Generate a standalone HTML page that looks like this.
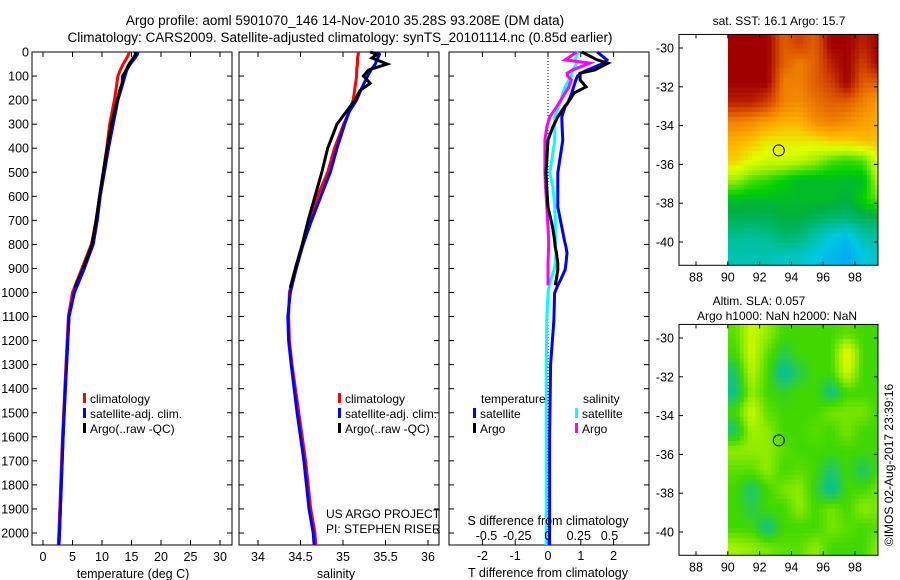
<!DOCTYPE html>
<html><head><meta charset="utf-8"><style>
body{margin:0;background:#fff}
svg{display:block;font-family:"Liberation Sans",Arial,sans-serif}
text{fill:#000}
</style></head><body>
<svg id="fig" width="900" height="580" viewBox="0 0 900 580">
<rect width="900" height="580" fill="#fff"/>
<text x="345" y="25" font-size="13.5" text-anchor="middle">Argo profile: aoml 5901070_146 14-Nov-2010 35.28S 93.208E (DM data)</text>
<text x="340" y="42" font-size="13.5" text-anchor="middle">Climatology: CARS2009. Satellite-adjusted climatology: synTS_20101114.nc (0.85d earlier)</text>
<g id="g"></g>
</svg>
<script>
// ---- depth levels (m) ----
const depthT = [0,10,25,50,75,100,150,200,300,400,500,600,700,800,900,1000,1100,1200,1300,1400,1500,1600,1800,2000,2050];
const tempClim = [14.6,14.5,14.2,13.6,13.1,12.7,12.4,12.1,11.3,10.8,10.2,9.6,9.0,8.2,6.6,5.0,4.3,4.1,3.9,3.7,3.5,3.3,3.0,2.7,2.6];
const tempSat  = [16.1,16.0,15.6,14.8,14.2,13.9,13.3,12.7,11.9,11.1,10.4,9.7,9.2,8.5,7.0,5.3,4.4,4.2,4.0,3.8,3.6,3.4,3.1,2.8,2.7];
const depthArgo = [0,10,25,50,75,100,130,160,200,300,400,500,600,700,800,900,980];
const tempArgo = [15.6,15.7,15.3,14.6,14.1,13.5,13.4,13.0,12.6,11.6,10.9,10.2,9.6,9.0,8.3,6.8,5.4];

const depthS = [0,10,25,50,75,100,150,200,250,300,400,500,600,700,800,900,1000,1100,1200,1300,1500,1700,1900,2000,2050];
const salClim = [35.18,35.18,35.17,35.17,35.16,35.16,35.14,35.12,35.07,35.01,34.90,34.82,34.70,34.61,34.53,34.44,34.37,34.36,34.37,34.40,34.48,34.56,34.62,34.67,34.68];
const salSat  = [35.41,35.43,35.41,35.38,35.33,35.29,35.22,35.16,35.07,35.02,34.93,34.85,34.74,34.63,34.53,34.45,34.38,34.35,34.36,34.39,34.46,34.54,34.60,34.65,34.66];
const salArgo = [35.32,35.40,35.34,35.52,35.30,35.24,35.32,35.20,35.14,34.93,34.82,34.75,34.67,34.59,34.52,34.44,34.38];

const depthD = [0,33,46,75,88,100,116,145,170,212,228,270,312,366,503,560,644,728,783,811,836,878,906,948,970,1002,1114,1300,1600,2000,2050];
const dTsat  = [1.5,1.8,1.7,1.2,1.0,0.9,0.85,0.78,0.73,0.6,0.52,0.42,0.43,0.45,0.3,0.3,0.3,0.42,0.5,0.55,0.58,0.55,0.52,0.38,0.3,0.2,0.18,0.08,0.05,0.05,0.05];
const dTargo = [1.03,1.5,1.83,1.43,0.98,0.98,0.98,1.16,0.8,0.6,0.5,0.3,0.15,0.0,-0.06,-0.04,0.0,0.14,0.2,0.22,0.26,0.3,0.3,0.25,0.22];
const dSsat  = [0.245,0.22,0.235,0.2,0.19,0.19,0.17,0.14,0.12,0.1,0.085,0.055,0.055,0.055,0.015,0.04,0.055,0.06,0.06,0.062,0.065,0.06,0.05,0.02,0.01,0.0,-0.01,-0.015,-0.015,-0.015,-0.015];
const dSargo = [0.235,0.14,0.34,0.2,0.155,0.16,0.19,0.17,0.14,0.09,0.07,0.015,-0.01,-0.025,-0.025,-0.02,-0.01,0.0,0.005,0.005,0.003,0.0,0.0,0.0,0.0];

const yTicks = [0,100,200,300,400,500,600,700,800,900,1000,1100,1200,1300,1400,1500,1600,1700,1800,1900,2000];
const tTicks = [0,5,10,15,20,25,30];
const sTicks = [34,34.5,35,35.5,36];
const dTTicks = [-2,-1,0,1,2];
const dSTicks = [-0.5,-0.25,0,0.25,0.5];
const dSLabels = ["-0.5","-0.25","0","0.25","0.5"];

// ---- maps (1-degree cells, rows from lat -29.3 southward, cols from lon 90 eastward) ----
const sstGrid = [
[1,1,1,.85,.9,.85,1,1,.95,1],
[1,1,1,.85,.8,.85,.95,1,.9,1],
[1,1,1,.8,.8,.85,.9,1,.85,.85],
[.95,.95,.9,.8,.78,.82,.85,.85,.8,.75],
[.8,.78,.75,.72,.72,.78,.8,.78,.75,.72],
[.72,.7,.65,.65,.65,.65,.68,.68,.7,.7],
[.68,.62,.6,.6,.58,.55,.5,.48,.5,.62],
[.55,.5,.48,.45,.42,.42,.42,.42,.42,.58],
[.42,.42,.42,.42,.42,.42,.42,.4,.45,.52],
[.38,.38,.38,.4,.4,.38,.36,.36,.38,.38],
[.33,.32,.33,.36,.35,.3,.25,.22,.3,.32],
[.3,.3,.3,.28,.28,.25,.22,.2,.25,.28]];
const slaGrid = [
[.1,.6,.3,0,0,0,0,.1,0,0],
[0,.6,.1,-.2,0,0,0,.8,0,0],
[-.3,.5,0,-.5,-.2,0,0,.6,0,0],
[-.4,.3,0,-.1,0,0,-.4,0,0,0],
[0,.6,.1,0,0,0,.2,.2,.2,0],
[-.3,.4,.3,0,0,.1,0,.2,0,0],
[.3,.3,.3,.1,0,0,0,0,0,0],
[.1,.1,.3,0,.1,0,-.3,0,-.3,0],
[0,-.3,0,.2,.3,-.1,-.5,0,0,.2],
[0,-.2,0,0,.3,0,.2,0,.3,.2],
[0,0,-.4,0,0,0,.2,.1,0,.1],
[.4,.3,.2,.1,.1,.3,0,0,0,.3]];
const latTicks = [-30,-32,-34,-36,-38,-40];
const lonTicks = [88,90,92,94,96,98];
const argoLon = 93.208, argoLat = -35.28;

const NS='http://www.w3.org/2000/svg';
const G=document.getElementById('g');
function mk(tag,attrs,parent){const e=document.createElementNS(NS,tag);for(const k in attrs)e.setAttribute(k,attrs[k]);(parent||G).appendChild(e);return e;}
function txt(x,y,s,size,anchor,parent){const t=mk('text',{x:x,y:y,'font-size':size,'text-anchor':anchor||'middle'},parent);t.textContent=s;return t;}

const yD = d => 52 + 0.2405*d;
const PY0=52, PY1=545;
const xT = v => 43 + 5.9*v;
const xS = v => 258 + 85*(v-34);
const xdT = v => 548 + 32.8*v;
const xdS = v => 548 + 123*v;

function frame(x0,x1,name,xt,xf){
  const g=mk('g',{});
  
  
  mk('rect',{x:x0,y:PY0,width:x1-x0,height:PY1-PY0,fill:'none',stroke:'#000','stroke-width':1},g);
  yTicks.forEach(d=>{const y=yD(d);mk('line',{x1:x0,x2:x0+5,y1:y,y2:y,stroke:'#000'},g);mk('line',{x1:x1-5,x2:x1,y1:y,y2:y,stroke:'#000'},g);});
  xt.forEach(v=>{const x=xf(v);mk('line',{x1:x,x2:x,y1:PY0,y2:PY0+5,stroke:'#000'},g);mk('line',{x1:x,x2:x,y1:PY1-5,y2:PY1,stroke:'#000'},g);});
  return g;
}
function line(ds,vs,xf,color,name){
  const pts=vs.map((v,i)=>xf(v).toFixed(1)+','+yD(ds[i]).toFixed(1)).join(' ');
  const p=mk('polyline',{points:pts,fill:'none',stroke:color,'stroke-width':3,'stroke-linejoin':'miter'});
  
  
  return p;
}
function legItem(x,y,color,label,name){
  const g=mk('g',{});
  
  
  mk('rect',{x:x,y:y-10,width:3,height:10,fill:color},g);
  txt(x+7,y,label,12,'start',g);
}

yTicks.forEach(d=>{const t=txt(29,yD(d)+4.5,String(d),12.5,'end');});

// Panel 1
frame(32,232,'temperature-panel',tTicks,xT);
tTicks.forEach(v=>txt(xT(v),561,String(v),12.5));
txt(133,578,'temperature (deg C)',12.5);
line(depthT,tempClim,xT,'#ff0000','temp-climatology-line');
line(depthT,tempSat,xT,'#0000ff','temp-satellite-line');
line(depthArgo,tempArgo,xT,'#000','temp-argo-line');
line(depthT.slice(14),tempSat.slice(14),xT,'#0000ff','temp-satellite-deep-line');
legItem(83,403,'#ff0000','climatology','legend-climatology');
legItem(83,418,'#0000ff','satellite-adj. clim.','legend-satellite');
legItem(83,433,'#000','Argo(..raw -QC)','legend-argo');

// Panel 2
frame(239,439,'salinity-panel',sTicks,xS);
sTicks.forEach(v=>txt(xS(v),561,String(v),12.5));
txt(336,578,'salinity',12.5);
line(depthS,salClim,xS,'#ff0000','sal-climatology-line');
line(depthS,salSat,xS,'#0000ff','sal-satellite-line');
line(depthArgo,salArgo,xS,'#000','sal-argo-line');
legItem(338,403,'#ff0000','climatology','legend-climatology-2');
legItem(338,418,'#0000ff','satellite-adj. clim.','legend-satellite-2');
legItem(338,433,'#000','Argo(..raw -QC)','legend-argo-2');
txt(326,518,'US ARGO PROJECT',12,'start');
txt(326,533,'PI: STEPHEN RISER',12,'start');

// Panel 3
frame(449,649,'difference-panel',dTTicks,xdT);
mk('line',{x1:548,x2:548,y1:PY0,y2:PY1,stroke:'#000','stroke-dasharray':'1,2'});
dTTicks.forEach(v=>txt(xdT(v),560,String(v),12.5));
txt(548,577,'T difference from climatology',12.5);
line(depthD,dSsat,xdS,'#00ffff','sdiff-satellite-line');
line(depthD.slice(0,dSargo.length),dSargo,xdS,'#ff00ff','sdiff-argo-line');
line(depthD,dTsat,xdT,'#0000ff','tdiff-satellite-line');
line(depthD.slice(0,dTargo.length),dTargo,xdT,'#000','tdiff-argo-line');
txt(481,403,'temperature',12,'start');
txt(583,403,'salinity',12,'start');
legItem(473,418,'#0000ff','satellite','legend-t-satellite');
legItem(473,433,'#000','Argo','legend-t-argo');
legItem(575,418,'#00ffff','satellite','legend-s-satellite');
legItem(575,433,'#ff00ff','Argo','legend-s-argo');
txt(548,525,'S difference from climatology',12.5);
dSTicks.forEach((v,i)=>txt(xdS(v),540,dSLabels[i],12.5));

// ---- maps ----
const MX0=679, MX1=878;
const xLon = l => 696 + 15.9*(l-88);
function rgb(c){return 'rgb('+c.map(Math.round).join(',')+')';}
function lerpColor(stops,v){
  if(v<=stops[0][0])return rgb(stops[0][1]);
  for(let i=1;i<stops.length;i++){if(v<=stops[i][0]){const a=stops[i-1],b=stops[i],t=(v-a[0])/(b[0]-a[0]);return rgb([0,1,2].map(k=>a[1][k]+(b[1][k]-a[1][k])*t));}}
  return rgb(stops[stops.length-1][1]);
}
function sample(grid,r,c){ // bilinear between cell centres
  const R=grid.length,C=grid[0].length;
  r=Math.max(0,Math.min(R-1,r));c=Math.max(0,Math.min(C-1,c));
  const r0=Math.floor(r),c0=Math.floor(c),r1=Math.min(R-1,r0+1),c1=Math.min(C-1,c0+1),fr=r-r0,fc=c-c0;
  return grid[r0][c0]*(1-fr)*(1-fc)+grid[r0][c1]*(1-fr)*fc+grid[r1][c0]*fr*(1-fc)+grid[r1][c1]*fr*fc;
}
const jet=[[0.15,[0,144,255]],[0.25,[0,200,224]],[0.32,[0,192,160]],[0.4,[0,176,64]],[0.45,[0,208,0]],[0.55,[160,240,0]],[0.62,[224,255,0]],[0.72,[255,176,0]],[0.8,[240,128,0]],[0.9,[208,64,0]],[1,[160,0,0]]];
const slaPal=[[-0.5,[0,192,160]],[-0.25,[32,200,96]],[0,[64,216,0]],[0.3,[144,236,0]],[0.6,[208,248,0]],[0.8,[240,240,0]]];
function map(top,grid,pal,name){
  const yLat = l => top+13.6 + 19.4*(-30-l);
  const bot = yLat(-41.2), y0=yLat(-29.3);
  const g=mk('g',{});
  
  
  const cid='clip'+name;
  const cp=mk('clipPath',{id:cid},g);mk('rect',{x:xLon(90),y:y0,width:MX1-xLon(90),height:bot-y0},cp);
  const cg=mk('g',{'clip-path':'url(#'+cid+')'},g);
  const S=4, R=grid.length, C=grid[0].length;
  for(let i=0;i<R*S;i++)for(let j=0;j<C*S;j++){
    const v=sample(grid,(i+0.5)/S-0.5,(j+0.5)/S-0.5);
    const c=mk('rect',{x:xLon(90+j/S),y:yLat(-29.3-i/S),width:15.9/S+0.4,height:19.4/S+0.4,fill:lerpColor(pal,v)},cg);
    
    
  }
  mk('rect',{x:MX0,y:y0,width:MX1-MX0,height:bot-y0,fill:'none',stroke:'#000'},g);
  latTicks.forEach(l=>{const y=yLat(l);mk('line',{x1:MX0,x2:MX0+4,y1:y,y2:y,stroke:'#000'},g);mk('line',{x1:MX1-4,x2:MX1,y1:y,y2:y,stroke:'#000'},g);txt(674,y+4.5,String(l),12.5,'end',g);});
  lonTicks.forEach(l=>{const x=xLon(l);mk('line',{x1:x,x2:x,y1:y0,y2:y0+4,stroke:'#000'},g);mk('line',{x1:x,x2:x,y1:bot-4,y2:bot,stroke:'#000'},g);txt(x,bot+16,String(l),12.5,'middle',g);});
  const m=mk('circle',{cx:xLon(argoLon),cy:yLat(argoLat),r:5.5,fill:'none',stroke:'#000','stroke-width':1},g);
  
  
}
map(34.4,sstGrid,jet,'sst-map');
map(324.4,slaGrid,slaPal,'sla-map');
txt(779,25,'sat. SST: 16.1  Argo: 15.7',12);
txt(759,305,'Altim. SLA: 0.057',12);
txt(777,320,'Argo h1000: NaN h2000: NaN',12);
const cr=txt(0,0,'©IMOS 02-Aug-2017 23:39:16',12);
cr.setAttribute('transform','translate(893,465) rotate(-90)');


</script>
</body></html>
